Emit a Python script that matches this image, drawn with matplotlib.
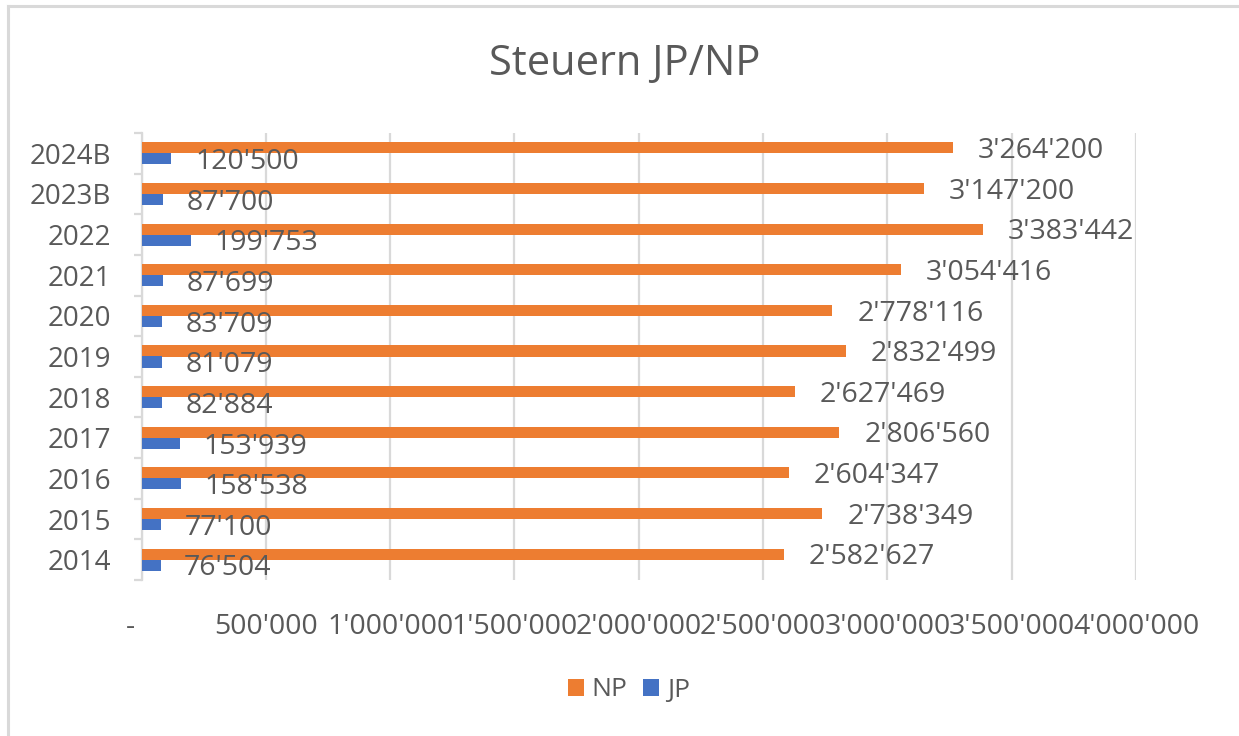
import matplotlib
matplotlib.use("Agg")
import matplotlib.pyplot as plt
from matplotlib.patches import Patch
from matplotlib.lines import Line2D
import numpy as np

plt.rcParams['font.family'] = ['Open Sans', 'DejaVu Sans']

categories = ["2014", "2015", "2016", "2017", "2018", "2019", "2020", "2021", "2022", "2023B", "2024B"]
np_values = [2582627, 2738349, 2604347, 2806560, 2627469, 2832499, 2778116, 3054416, 3383442, 3147200, 3264200]
jp_values = [76504, 77100, 158538, 153939, 82884, 81079, 83709, 87699, 199753, 87700, 120500]
x_ticks = [0, 500000, 1000000, 1500000, 2000000, 2500000, 3000000, 3500000, 4000000]
title = "Steuern JP/NP"

ORANGE = "#ED7D31"
BLUE = "#4472C4"
TXT = "#595959"
GRID = "#D9D9D9"

def fmt(v):
    return f"{v:,}".replace(",", "'")

W, H = 1239, 736
fig = plt.figure(figsize=(W / 100, H / 100), dpi=100)
ax = fig.add_axes([141.5 / W, 1 - 580 / H, (1136 - 141.5) / W, (580 - 133) / H])

y = np.arange(len(categories))
bh = 0.272
ax.barh(y + bh / 2, np_values, height=bh, color=ORANGE, zorder=3)
ax.barh(y - bh / 2, jp_values, height=bh, color=BLUE, zorder=3)

fs = 20.5
dy = -0.36 * fs
for yi, v in zip(y, np_values):
    ax.annotate(fmt(v), (v, yi + bh / 2), xytext=(18, dy), textcoords="offset points",
                ha="left", va="baseline", fontsize=fs, color=TXT)
for yi, v in zip(y, jp_values):
    ax.annotate(fmt(v), (v, yi - bh / 2), xytext=(17, dy), textcoords="offset points",
                ha="left", va="baseline", fontsize=fs, color=TXT)

ax.set_xlim(0, 4000000)
ax.set_ylim(-0.5, len(categories) - 0.5)
ax.set_xticks(x_ticks)
ax.set_xticklabels(["-   " if t == 0 else fmt(t) for t in x_ticks], fontsize=fs, color=TXT)
ax.tick_params(axis="x", length=0, pad=24)
ax.xaxis.grid(True, color=GRID, linewidth=1.6, zorder=0)
ax.set_axisbelow(True)

ax.set_yticks(y)
ax.set_yticklabels(categories, fontsize=20, color=TXT)
ax.set_yticks(np.arange(-0.5, len(categories), 1.0), minor=True)
ax.tick_params(axis="y", which="major", length=0, pad=22)
ax.tick_params(axis="y", which="minor", length=6, width=1.6, color=GRID, direction="out")

for s in ["top", "right", "bottom"]:
    ax.spines[s].set_visible(False)
ax.spines["left"].set_color(GRID)
ax.spines["left"].set_linewidth(1.6)

fig.text(625 / W, 1 - 64 / H, title, ha="center", va="center", fontsize=30, color=TXT)

handles = [Patch(facecolor=ORANGE, label="NP"), Patch(facecolor=BLUE, label="JP")]
fig.legend(handles=handles, loc="center", bbox_to_anchor=(629 / W, 1 - 690 / H), ncol=2,
           frameon=False, fontsize=19, labelcolor=TXT, handlelength=0.6, handleheight=0.6,
           handletextpad=0.3, columnspacing=0.6)

# chart frame
fig.add_artist(Line2D([8 / W, 1], [1 - 6 / H, 1 - 6 / H], color=GRID, linewidth=2.2, transform=fig.transFigure))
fig.add_artist(Line2D([8 / W, 8 / W], [0, 1 - 6 / H], color=GRID, linewidth=2.2, transform=fig.transFigure))

fig.savefig("out.png", dpi=100, facecolor="white")
